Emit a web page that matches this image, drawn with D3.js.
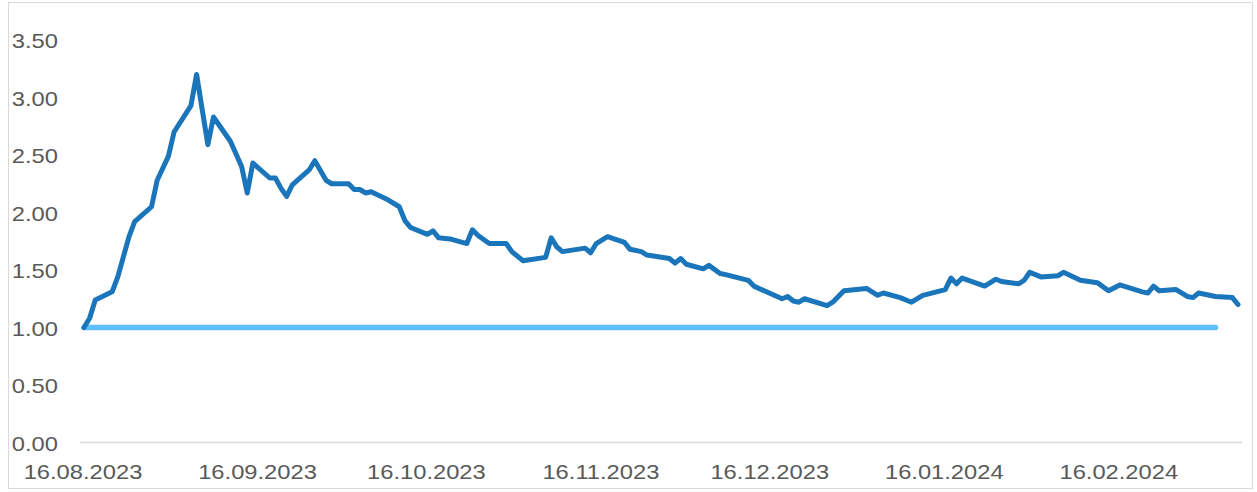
<!DOCTYPE html>
<html>
<head>
<meta charset="utf-8">
<script src="https://cdn.jsdelivr.net/npm/d3@7"></script>
<style>
  body { margin: 0; background: #fff; }
  svg { display: block; font-family: "Liberation Sans", Arial, sans-serif; }
</style>
</head>
<body>
<div id="chart"></div>
<script>
// values (trading days, dd.mm.yyyy)
var dates = [
  "16.08.2023","17.08.2023","18.08.2023","21.08.2023","22.08.2023","24.08.2023","25.08.2023","28.08.2023","29.08.2023","31.08.2023",
  "01.09.2023","04.09.2023","05.09.2023","07.09.2023","08.09.2023","11.09.2023","13.09.2023","14.09.2023","15.09.2023","18.09.2023",
  "19.09.2023","20.09.2023","21.09.2023","22.09.2023","25.09.2023","26.09.2023","28.09.2023","29.09.2023","02.10.2023","03.10.2023",
  "04.10.2023","05.10.2023","06.10.2023","09.10.2023","11.10.2023","12.10.2023","13.10.2023","16.10.2023","17.10.2023","18.10.2023",
  "20.10.2023","23.10.2023","24.10.2023","25.10.2023","27.10.2023","30.10.2023","31.10.2023","02.11.2023","06.11.2023","07.11.2023",
  "08.11.2023","09.11.2023","13.11.2023","14.11.2023","15.11.2023","17.11.2023","20.11.2023","21.11.2023","23.11.2023","24.11.2023",
  "28.11.2023","29.11.2023","30.11.2023","01.12.2023","04.12.2023","05.12.2023","07.12.2023","08.12.2023","12.12.2023","13.12.2023",
  "18.12.2023","19.12.2023","20.12.2023","21.12.2023","22.12.2023","26.12.2023","27.12.2023","29.12.2023","02.01.2024","04.01.2024",
  "05.01.2024","08.01.2024","10.01.2024","12.01.2024","16.01.2024","17.01.2024","18.01.2024","19.01.2024","23.01.2024","25.01.2024",
  "26.01.2024","29.01.2024","30.01.2024","31.01.2024","01.02.2024","02.02.2024","05.02.2024","06.02.2024","09.02.2024","12.02.2024",
  "14.02.2024","16.02.2024","20.02.2024","21.02.2024","22.02.2024","23.02.2024","26.02.2024","28.02.2024","29.02.2024","01.03.2024",
  "04.03.2024","07.03.2024","08.03.2024"
];
var ratio = [
  1.00,1.08,1.24,1.31,1.44,1.79,1.92,2.05,2.28,2.49,
  2.70,2.93,3.20,2.59,2.83,2.62,2.40,2.17,2.43,2.30,
  2.30,2.21,2.14,2.24,2.37,2.45,2.28,2.25,2.25,2.20,
  2.20,2.17,2.18,2.11,2.05,1.93,1.87,1.81,1.84,1.78,
  1.77,1.73,1.85,1.80,1.73,1.73,1.66,1.58,1.61,1.78,
  1.70,1.66,1.69,1.65,1.73,1.79,1.74,1.68,1.66,1.63,
  1.60,1.56,1.60,1.55,1.51,1.54,1.47,1.46,1.41,1.36,
  1.25,1.27,1.23,1.22,1.25,1.19,1.22,1.32,1.34,1.28,
  1.30,1.26,1.22,1.28,1.33,1.43,1.38,1.43,1.36,1.42,
  1.40,1.38,1.41,1.48,1.46,1.44,1.45,1.48,1.41,1.39,
  1.32,1.37,1.31,1.30,1.36,1.32,1.33,1.27,1.26,1.30,
  1.27,1.26,1.20
];
var baseDates = ["16.08.2023", "04.03.2024"];
var baseValues = [1.00, 1.00];
var yTicks = [0, 0.5, 1, 1.5, 2, 2.5, 3, 3.5];
var xTickLabels = ["16.08.2023","16.09.2023","16.10.2023","16.11.2023","16.12.2023","16.01.2024","16.02.2024"];

var W = 1257, H = 492;
var parse = d3.timeParse("%d.%m.%Y");
var stretch = 1.13; // labels in the picture are a bit wider than plain Arial

var svg = d3.select("#chart").append("svg")
  .attr("width", W)
  .attr("height", H);

// outer frame
svg.append("rect")
  .attr("x", 8.5).attr("y", 2.5)
  .attr("width", 1244).attr("height", 486)
  .attr("fill", "#fff")
  .attr("stroke", "#d9d9d9")
  .attr("stroke-width", 1);

var x = d3.scaleTime()
  .domain([parse("16.08.2023"), parse("08.03.2024")])
  .range([84, 1238]);

var y = d3.scaleLinear()
  .domain([0, 3.5])
  .range([442.5, 40]);

// y labels
svg.append("g")
  .selectAll("text")
  .data(yTicks)
  .enter()
  .append("text")
    .attr("transform", function(d) { return "translate(58," + (y(d) + 8) + ") scale(" + stretch + ",1)"; })
    .attr("text-anchor", "end")
    .attr("fill", "#595959")
    .style("font-size", "21px")
    .text(function(d) { return d3.format(".2f")(d); });

// x axis line
svg.append("line")
  .attr("x1", 80).attr("x2", 1242)
  .attr("y1", y(0)).attr("y2", y(0))
  .attr("stroke", "#d9d9d9")
  .attr("stroke-width", 1.5);

// x labels
svg.append("g")
  .selectAll("text")
  .data(xTickLabels)
  .enter()
  .append("text")
    .attr("transform", function(d) { return "translate(" + (x(parse(d)) - 1) + ",479) scale(" + stretch + ",1)"; })
    .attr("text-anchor", "middle")
    .attr("fill", "#595959")
    .style("font-size", "21px")
    .text(function(d) { return d; });

var line = d3.line()
  .x(function(d) { return x(d[0]); })
  .y(function(d) { return y(d[1]); });

var baseData = baseDates.map(function(d, i) { return [parse(d), baseValues[i]]; });
var mainData = dates.map(function(d, i) { return [parse(d), ratio[i]]; });

svg.append("path")
  .datum(baseData)
  .attr("d", line)
  .attr("fill", "none")
  .attr("stroke", "#5ebffa")
  .attr("stroke-width", 5.5)
  .attr("stroke-linecap", "round");

svg.append("path")
  .datum(mainData)
  .attr("d", line)
  .attr("fill", "none")
  .attr("stroke", "#1b75bb")
  .attr("stroke-width", 5)
  .attr("stroke-linejoin", "round")
  .attr("stroke-linecap", "round");
</script>
</body>
</html>
